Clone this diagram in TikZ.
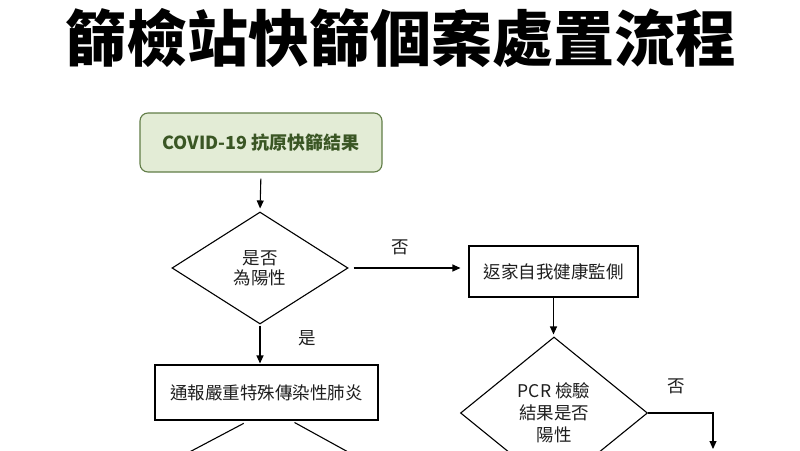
\documentclass[tikz,border=0pt]{standalone}
\usepackage{fontspec}
\setmainfont{Noto Sans CJK TC}
\newfontfamily\cjk{Noto Sans CJK TC}
\usetikzlibrary{shapes.geometric,arrows.meta,calc}

\definecolor{startfill}{HTML}{E3ECD6}
\definecolor{startdraw}{HTML}{617D47}
\definecolor{starttext}{HTML}{3A5624}
\definecolor{ink}{HTML}{1E1E1E}

\tikzset{
  flowline/.style={draw=black, line width=1.1pt},
  flowarrow/.style={flowline, -{Triangle[length=8pt,width=7pt]}},
  startbox/.style={draw=startdraw, fill=startfill, line width=1.1pt,
    rounded corners=8pt, inner sep=0pt, text=starttext,
    font=\cjk\bfseries\fontsize{18}{22}\selectfont},
  procbox/.style={draw=black, fill=white, line width=1.1pt, inner sep=0pt,
    text=ink, font=\cjk\fontsize{17.5}{21}\selectfont},
  decision/.style={diamond, draw=black, fill=white, line width=1.1pt,
    inner sep=0pt, text=ink, align=center},
  branchlabel/.style={text=ink, font=\cjk\fontsize{17.5}{21}\selectfont, inner sep=0pt}
}

\begin{document}
\begin{tikzpicture}[x=1pt,y=-1pt]
  \useasboundingbox (0,0) rectangle (800,450);
  \clip (0,0) rectangle (800,450);
  \fill[white] (0,0) rectangle (800,450);

  % heading
  \node[font=\cjk\bfseries\fontsize{61}{66}\selectfont, inner sep=0pt] (title)
    at (401,38) {篩檢站快篩個案處置流程};

  % flow nodes
  \node[startbox, minimum width=242pt, minimum height=59pt] (start)
    at (261,142.5) {COVID-19 抗原快篩結果};

  \node[decision, minimum width=176pt, minimum height=112pt,
        font=\cjk\fontsize{17.5}{20}\selectfont] (pos) at (260,268)
    {是否\\為陽性};

  \node[procbox, minimum width=169pt, minimum height=51pt] (home)
    at (553.5,271.5) {返家自我健康監側};

  \node[decision, minimum width=187pt, minimum height=152pt,
        font=\cjk\fontsize{17.5}{22}\selectfont] (pcr) at (554,413)
    {PCR 檢驗\\結果是否\\陽性};

  % free ends running past the lower edge
  \coordinate (pcrno)   at (713,449);
  \coordinate (leftend) at (136.5,480);
  \coordinate (rightend) at (399,480);

  % branches below the report box
  \node[procbox, minimum width=223pt, minimum height=55pt] (report)
    at (266.5,392.5) {通報嚴重特殊傳染性肺炎};
  \draw[flowline, shorten <=6pt] ($(report.south)+(-17.5,0)$) -- (leftend);
  \draw[flowline, shorten <=4pt] ($(report.south)+(24.5,0)$) -- (rightend);

  % connectors
  \draw[flowarrow, shorten <=6pt, shorten >=3pt] (start.south) -- (pos.north);
  \draw[flowarrow, shorten <=5pt, shorten >=8pt] (pos.east) -- (pos.east -| home.west);
  \draw[flowarrow, shorten <=1pt, shorten >=1pt] (pos.south) -- (pos.south |- report.north);
  \draw[flowarrow, shorten >=2pt] (home.south) -- (home.south |- pcr.north);
  \draw[flowarrow] (pcr.east) -| (pcrno);

  % branch labels
  \node[branchlabel] (no1)  at (400,247) {否};
  \node[branchlabel] (yes1) at (307,338) {是};
  \node[branchlabel] (no2)  at (676,386) {否};
\end{tikzpicture}
\end{document}
